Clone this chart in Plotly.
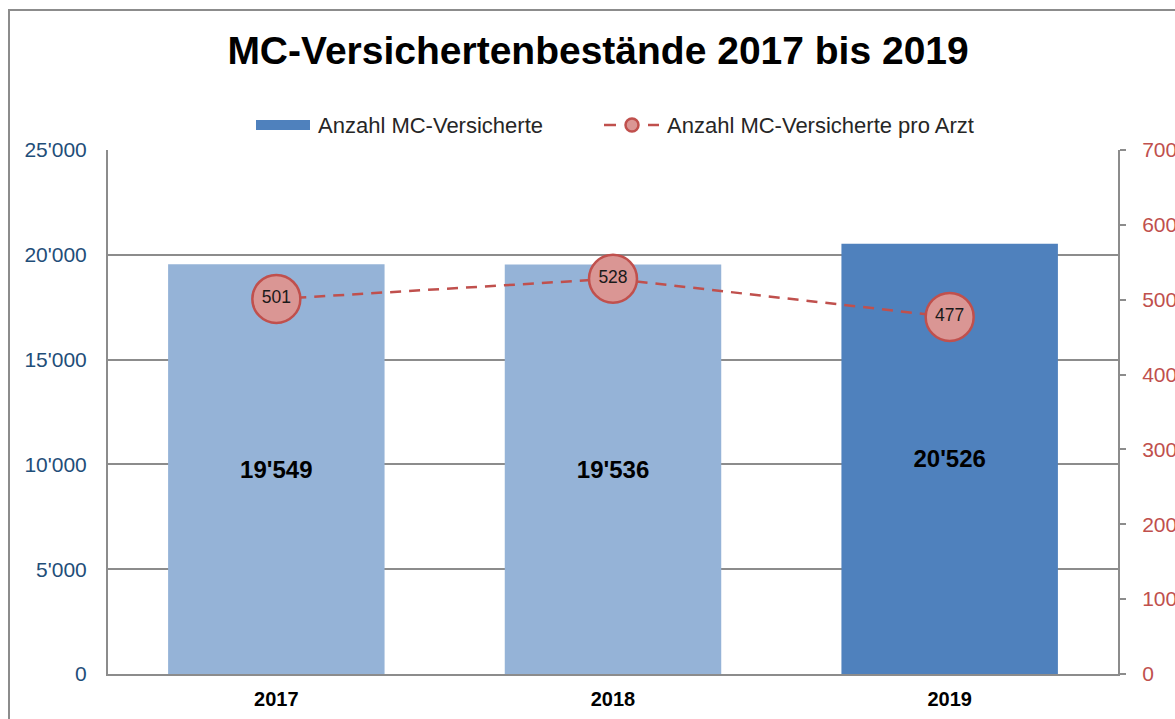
import plotly.graph_objects as go

years = ["2017", "2018", "2019"]
versicherte = [19549, 19536, 20526]
pro_arzt = [501, 528, 477]
bar_colors = ["#95B3D7", "#95B3D7", "#4F81BD"]

title_text = "MC-Versichertenbestände 2017 bis 2019"
name_bar = "Anzahl MC-Versicherte"
name_line = "Anzahl MC-Versicherte pro Arzt"

FONT = "Liberation Sans, Arial, sans-serif"
GRID = "#8C8C8C"
RED = "#C0504D"
BLUE = "#4F81BD"

# plot area in pixels
L, R, T, B = 108, 1118, 150, 674
W, H = R - L, B - T


def px(x):
    return (x - L) / W


def py(y):
    return (B - y) / H


fig = go.Figure()

fig.add_trace(go.Bar(
    x=years, y=versicherte, name=name_bar, showlegend=False,
    marker=dict(color=bar_colors, line=dict(width=0)),
    texttemplate="%{y:,}", textposition="inside", insidetextanchor="middle",
    textfont=dict(family=FONT, size=24, color="#000000", weight="bold"),
    textangle=0, hoverinfo="skip",
))
fig.add_trace(go.Scatter(
    x=years, y=pro_arzt, name=name_line, yaxis="y2", showlegend=False,
    mode="lines+markers+text", text=[str(v) for v in pro_arzt],
    textposition="middle center",
    textfont=dict(family=FONT, size=17.5, color="#1a1a1a"),
    line=dict(color=RED, width=2.5, dash="11px,8px"),
    marker=dict(size=48, color="#DA9694", line=dict(color=RED, width=2.5)),
))

# manual legend (Excel-style symbols)
leg_y = 125
shapes = [
    dict(type="rect", xref="paper", yref="paper",
         x0=px(9), x1=1.3, y0=-0.3, y1=py(10),
         line=dict(color="#8C8C8C", width=2), fillcolor="rgba(0,0,0,0)", layer="below"),
    dict(type="rect", xref="paper", yref="paper",
         x0=px(256), x1=px(310), y0=py(130), y1=py(120),
         line=dict(width=0), fillcolor=BLUE),
    dict(type="line", xref="paper", yref="paper",
         x0=px(604), x1=px(616), y0=py(leg_y), y1=py(leg_y),
         line=dict(color=RED, width=2.5)),
    dict(type="line", xref="paper", yref="paper",
         x0=px(648), x1=px(659), y0=py(leg_y), y1=py(leg_y),
         line=dict(color=RED, width=2.5)),
    dict(type="circle", xref="paper", yref="paper",
         x0=px(625.5), x1=px(638.5), y0=py(leg_y + 6.5), y1=py(leg_y - 6.5),
         line=dict(color=RED, width=2.5), fillcolor="#DA9694"),
]
annotations = [
    dict(text=name_bar, xref="paper", yref="paper", x=px(316), y=py(leg_y),
         xanchor="left", yanchor="middle", showarrow=False,
         font=dict(family=FONT, size=22, color="#262626")),
    dict(text=name_line, xref="paper", yref="paper", x=px(665), y=py(leg_y),
         xanchor="left", yanchor="middle", showarrow=False,
         font=dict(family=FONT, size=22, color="#262626")),
]

fig.update_layout(
    width=1175, height=719,
    margin=dict(l=L, r=1175 - R, t=T, b=719 - B, autoexpand=False),
    paper_bgcolor="white", plot_bgcolor="white",
    separators=".'",
    font=dict(family=FONT, size=21, color="#262626"),
    title=dict(text=title_text, x=0.509, xanchor="center", y=1 - 50 / 719,
               yanchor="middle", yref="container",
               font=dict(family=FONT, size=39, color="#000000", weight="bold")),
    barmode="overlay",
    bargap=0.357,
    showlegend=False,
    xaxis=dict(type="category", showline=True, linecolor=GRID, linewidth=2,
               ticks="", tickfont=dict(family=FONT, size=20, color="#000000", weight="bold"),
               showgrid=False, zeroline=False, ticklabelstandoff=6, automargin=False),
    yaxis=dict(range=[0, 25000], dtick=5000, tickformat=",d",
               showline=True, linecolor=GRID, linewidth=2, mirror=False,
               showgrid=True, gridcolor=GRID, gridwidth=1.5, zeroline=False,
               ticks="", tickfont=dict(family=FONT, size=21, color="#1F4E79"),
               ticklabelstandoff=15, automargin=False),
    yaxis2=dict(range=[0, 700], dtick=100, overlaying="y", side="right",
                showline=True, linecolor=GRID, linewidth=2,
                showgrid=False, zeroline=False,
                ticks="outside", ticklen=6, tickcolor=GRID, tickwidth=2,
                tickfont=dict(family=FONT, size=21, color=RED),
                ticklabelstandoff=12, automargin=False),
    shapes=shapes,
    annotations=annotations,
)

fig.write_html("out.html", config={"displayModeBar": False},
               post_script="document.body.style.margin='0';")
